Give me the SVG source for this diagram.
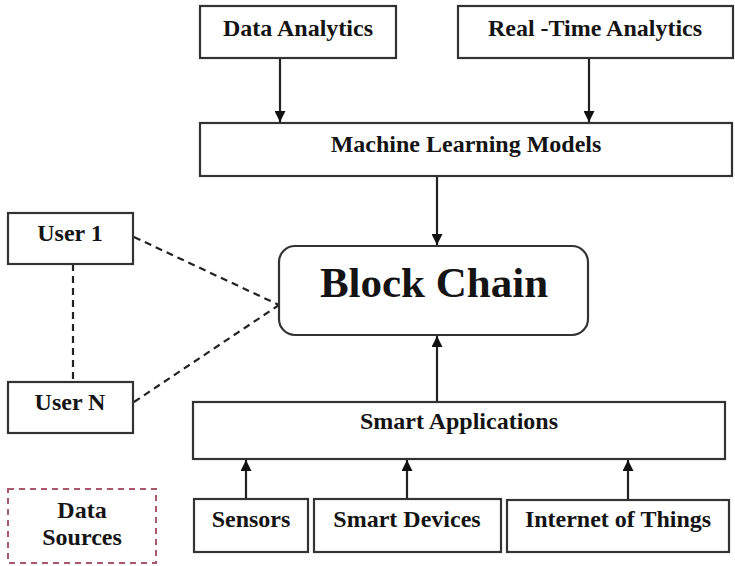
<svg xmlns="http://www.w3.org/2000/svg" width="735" height="566" viewBox="0 0 735 566">
<style>
.box{fill:#fff;stroke:#333;stroke-width:2.2}
.t{font-family:"Liberation Serif","Times New Roman",serif;font-weight:bold;font-size:24px;fill:#141414;text-anchor:middle}
.c{stroke:#222;stroke-width:2.2;fill:none}
.d{stroke:#222;stroke-width:2.2;fill:none;stroke-dasharray:7 5}
</style>
<defs>
<marker id="ah" viewBox="0 0 10 10" refX="10" refY="5" markerWidth="5" markerHeight="5" orient="auto" markerUnits="strokeWidth">
<path d="M0,0 L10,5 L0,10 z" fill="#111"/>
</marker>
</defs>
<rect width="735" height="566" fill="#fff"/>
<g id="connectors">
<line class="c" x1="280" y1="58" x2="280" y2="122" marker-end="url(#ah)"/>
<line class="c" x1="589" y1="58" x2="589" y2="122" marker-end="url(#ah)"/>
<line class="c" x1="437" y1="176" x2="437" y2="245" marker-end="url(#ah)"/>
<line class="c" x1="437" y1="402" x2="437" y2="336" marker-end="url(#ah)"/>
<line class="c" x1="246" y1="499" x2="246" y2="460" marker-end="url(#ah)"/>
<line class="c" x1="407" y1="499" x2="407" y2="460" marker-end="url(#ah)"/>
<line class="c" x1="628" y1="500" x2="628" y2="460" marker-end="url(#ah)"/>
<line class="d" x1="73" y1="264" x2="73" y2="382"/>
<line class="d" x1="134" y1="237" x2="279" y2="305"/>
<line class="d" x1="134" y1="402" x2="279" y2="305"/>
</g>
<g id="data-analytics"><rect class="box" x="200" y="6" width="196" height="52"/><text class="t" x="298" y="36">Data Analytics</text></g>
<g id="real-time-analytics"><rect class="box" x="458" y="6" width="275" height="52"/><text class="t" x="595" y="36">Real -Time Analytics</text></g>
<g id="ml-models"><rect class="box" x="200" y="123" width="532" height="53"/><text class="t" x="466" y="152">Machine Learning Models</text></g>
<g id="block-chain"><rect class="box" x="279" y="246" width="309" height="89" rx="16"/><text class="t" x="434" y="297" style="font-size:43px">Block Chain</text></g>
<g id="user-1"><rect class="box" x="8" y="213" width="125" height="51"/><text class="t" x="70" y="241">User 1</text></g>
<g id="user-n"><rect class="box" x="8" y="382" width="125" height="51"/><text class="t" x="70" y="410">User N</text></g>
<g id="smart-applications"><rect class="box" x="193" y="402" width="532" height="57"/><text class="t" x="459" y="429">Smart Applications</text></g>
<g id="sensors"><rect class="box" x="194" y="499" width="114" height="53"/><text class="t" x="251" y="527">Sensors</text></g>
<g id="smart-devices"><rect class="box" x="314" y="499" width="187" height="53"/><text class="t" x="407" y="527">Smart Devices</text></g>
<g id="internet-of-things"><rect class="box" x="507" y="500" width="222" height="52"/><text class="t" x="618" y="527">Internet of Things</text></g>
<g id="data-sources"><rect x="8" y="489" width="148" height="74" fill="none" stroke="#a8586a" stroke-width="2" stroke-dasharray="6 5"/><text class="t" x="82" y="518">Data</text><text class="t" x="82" y="545">Sources</text></g>
</svg>
